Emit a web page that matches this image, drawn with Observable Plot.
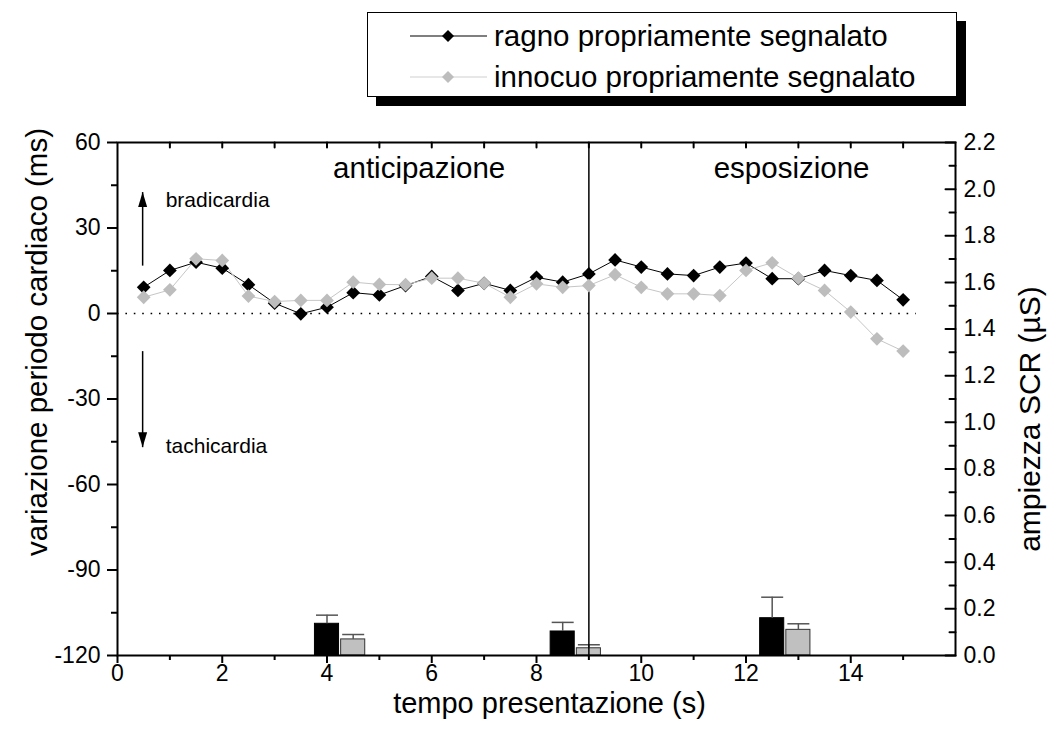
<!DOCTYPE html>
<html>
<head>
<meta charset="utf-8">
<script src="https://cdn.jsdelivr.net/npm/d3@7"></script>
<script src="https://cdn.jsdelivr.net/npm/@observablehq/plot@0.6"></script>
<style>
  body { margin: 0; background: #fff; font-family: "Liberation Sans", Arial, Helvetica, sans-serif; }
  #wrap { position: relative; width: 1057px; height: 740px; background: #fff; }
  #top { height: 120px; }
  #legend { position: absolute; left: 367px; top: 12px; width: 590px; height: 85px; box-sizing: border-box;
            border: 1px solid #000; box-shadow: 9px 9px 0 #000; background: #fff; }
  .row { position: absolute; left: 0; height: 30px; display: flex; align-items: center; }
  .row svg { margin-left: 42px; }
  .row span { margin-left: 6px; font-size: 29.5px; color: #000; white-space: nowrap; line-height: 30px; }
  #chart svg { display: block; }
</style>
</head>
<body>
<div id="wrap">
  <div id="top"></div>
  <div id="legend"></div>
  <div id="chart"></div>
</div>
<script>
// ---- data ----
const times = [0.5, 1, 1.5, 2, 2.5, 3, 3.5, 4, 4.5, 5, 5.5, 6, 6.5, 7, 7.5,
               8, 8.5, 9, 9.5, 10, 10.5, 11, 11.5, 12, 12.5, 13, 13.5, 14, 14.5, 15];
const ragno = [9.2, 15.1, 18.0, 15.9, 10.1, 3.6, -0.1, 2.2, 7.3, 6.5, 9.8, 13.0, 8.1, 10.6, 8.1,
               12.7, 11.0, 13.9, 18.8, 16.3, 13.9, 13.3, 16.3, 17.7, 12.2, 12.2, 15.1, 13.3, 11.6, 4.8];
const innocuo = [5.7, 8.3, 19.2, 18.6, 6.1, 4.2, 4.6, 4.6, 11.0, 10.2, 10.1, 12.4, 12.4, 10.6, 5.7,
                 10.4, 9.2, 9.8, 13.6, 9.2, 6.9, 6.9, 6.3, 15.1, 17.8, 12.4, 8.1, 0.5, -8.9, -13.2];

// SCR amplitude bars (right axis, µS)
const scrRagnoX = [4, 8.5, 12.5];
const scrRagno = [0.136, 0.103, 0.160];
const scrRagnoErr = [0.037, 0.039, 0.090];
const scrInnocuoX = [4.5, 9, 13];
const scrInnocuo = [0.069, 0.031, 0.110];
const scrInnocuoErr = [0.021, 0.015, 0.026];

const seriesNames = ["ragno propriamente segnalato", "innocuo propriamente segnalato"];

// axes
const xMajor = [0, 2, 4, 6, 8, 10, 12, 14];
const xMinor = [1, 3, 5, 7, 9, 11, 13, 15];
const xTop = [1, 2, 3, 4, 5, 6, 7, 8, 9, 10, 11, 12, 13, 14, 15];
const yMajor = [-120, -90, -60, -30, 0, 30, 60];
const yMinor = [-105, -75, -45, -15, 15, 45];
const scrMajor = [0, 0.2, 0.4, 0.6, 0.8, 1.0, 1.2, 1.4, 1.6, 1.8, 2.0, 2.2];
const scrMinor = [0.1, 0.3, 0.5, 0.7, 0.9, 1.1, 1.3, 1.5, 1.7, 1.9, 2.1];
const yDomain = [-120, 60];
const xDomain = [0, 16];
const scrMax = 2.2;

// annotations
const phaseSplit = [9];
const zeroLine = [{x1: 0, x2: 15.25, y: 0}];
const phaseLabels = [{x: 5.76, y: 50.9, text: "anticipazione"}, {x: 12.87, y: 50.9, text: "esposizione"}];
const dirLabels = [{x: 0.92, y: 39.6, text: "bradicardia"}, {x: 0.92, y: -46.7, text: "tachicardia"}];
const arrows = [{x: 0.48, y1: 16.8, y2: 42.6, rot: 0}, {x: 0.48, y1: -13.2, y2: -46.9, rot: 180}];
const titles = {x: "tempo presentazione (s)", yLeft: "variazione periodo cardiaco (ms)", yRight: "ampiezza SCR (µS)"};

// ---- build tables ----
const toLeft = v => yDomain[0] + v * (yDomain[1] - yDomain[0]) / scrMax;
const ragnoData = times.map((t, i) => ({t, v: ragno[i]}));
const innocuoData = times.map((t, i) => ({t, v: innocuo[i]}));
const bars = [
  ...scrRagnoX.map((x, i) => ({x, v: scrRagno[i], e: scrRagnoErr[i], fill: "#000", stroke: "#000"})),
  ...scrInnocuoX.map((x, i) => ({x, v: scrInnocuo[i], e: scrInnocuoErr[i], fill: "#c0c0c0", stroke: "#333"}))
];
const barHalf = 0.23, capHalf = 0.21;

const lineShape = {draw(context, l) { context.moveTo(0, 0); context.lineTo(0, -l); }};
const headSymbol = {draw(context) { context.moveTo(0, 0); context.lineTo(4.5, 15); context.lineTo(-4.5, 15); context.closePath(); }};

const font = "'Liberation Sans', Arial, Helvetica, sans-serif";

const chart = Plot.plot({
  width: 1057, height: 620,
  marginTop: 22, marginBottom: 85, marginLeft: 117, marginRight: 102,
  x: {domain: xDomain, label: null},
  y: {domain: yDomain, label: null},
  style: {fontFamily: font, color: "#000", background: "#fff", overflow: "visible"},
  marks: [
    Plot.ruleY(zeroLine, {x1: "x1", x2: "x2", y: "y", stroke: "#000", strokeWidth: 1.4, strokeDasharray: "1.6,6.8"}),
    // SCR bars
    Plot.rectY(bars, {x1: d => d.x - barHalf, x2: d => d.x + barHalf, y1: yDomain[0], y2: d => toLeft(d.v),
                      fill: d => d.fill, stroke: d => d.stroke, strokeWidth: 1}),
    Plot.ruleX(bars, {x: "x", y1: d => toLeft(d.v), y2: d => toLeft(d.v + d.e), stroke: "#555", strokeWidth: 1.5}),
    Plot.link(bars, {x1: d => d.x - capHalf, x2: d => d.x + capHalf, y1: d => toLeft(d.v + d.e), y2: d => toLeft(d.v + d.e),
                     stroke: "#555", strokeWidth: 1.5}),
    // phase split
    Plot.ruleX(phaseSplit, {stroke: "#000", strokeWidth: 1.5}),
    // series
    Plot.line(ragnoData, {x: "t", y: "v", stroke: "#000", strokeWidth: 1}),
    Plot.line(innocuoData, {x: "t", y: "v", stroke: "#c6c6c6", strokeWidth: 1}),
    Plot.dot(ragnoData, {x: "t", y: "v", symbol: "diamond2", r: 6.2, fill: "#000", stroke: "none"}),
    Plot.dot(innocuoData, {x: "t", y: "v", symbol: "diamond2", r: 6.2, fill: "#bdbdbd", stroke: "none"}),
    // annotations
    Plot.text(phaseLabels, {x: "x", y: "y", text: "text", fontSize: 29.5, fill: "#000"}),
    Plot.text(dirLabels, {x: "x", y: "y", text: "text", fontSize: 21, textAnchor: "start", fill: "#000"}),
    Plot.link(arrows, {x1: "x", x2: "x", y1: "y1", y2: "y2", stroke: "#000", strokeWidth: 1.5}),
    Plot.dot(arrows, {x: "x", y: "y2", symbol: headSymbol, rotate: "rot", fill: "#000", stroke: "none", r: 5}),
    // axes
    Plot.axisX({ticks: xMajor, tickSize: 8, tickPadding: 1, fontSize: 23, strokeWidth: 2, label: null, tickFormat: d => String(d)}),
    Plot.axisX({ticks: xMinor, tickSize: 5, strokeWidth: 2, fill: "none", label: null}),
    Plot.vector(xTop, {x: d => d, frameAnchor: "top", rotate: 180, length: 5, anchor: "start", shape: lineShape, stroke: "#000", strokeWidth: 2}),
    Plot.axisY({ticks: yMajor, anchor: "left", tickSize: 10, tickPadding: 7, fontSize: 23, strokeWidth: 2, label: null, tickFormat: d => String(d)}),
    Plot.axisY({ticks: yMinor, anchor: "left", tickSize: 6, strokeWidth: 2, fill: "none", label: null}),
    Plot.axisY({ticks: scrMajor.map(toLeft), anchor: "right", tickSize: 0, tickPadding: 8, fontSize: 23, label: null,
                tickFormat: d => ((d - yDomain[0]) * scrMax / (yDomain[1] - yDomain[0])).toFixed(1)}),
    Plot.vector(scrMajor.map(toLeft), {y: d => d, frameAnchor: "right", rotate: -90, length: 10, anchor: "start", shape: lineShape, stroke: "#000", strokeWidth: 2}),
    Plot.vector(scrMinor.map(toLeft), {y: d => d, frameAnchor: "right", rotate: -90, length: 6, anchor: "start", shape: lineShape, stroke: "#000", strokeWidth: 2}),
    Plot.frame({stroke: "#000", strokeWidth: 2}),
    // axis titles
    Plot.text([titles.x], {text: d => d, frameAnchor: "bottom", dx: 13, dy: 48, fontSize: 29, textAnchor: "middle", lineAnchor: "middle", fill: "#000"}),
    Plot.text([titles.yLeft], {text: d => d, frameAnchor: "left", dx: -80, dy: -57, rotate: -90, fontSize: 29.5, textAnchor: "middle", lineAnchor: "middle", fill: "#000"}),
    Plot.text([titles.yRight], {text: d => d, frameAnchor: "right", dx: 75, dy: 20, rotate: -90, fontSize: 30, textAnchor: "middle", lineAnchor: "middle", fill: "#000"})
  ]
});
document.getElementById("chart").appendChild(chart);

// ---- legend ----
const legendColors = [{line: "#000", marker: "#000"}, {line: "#d0d0d0", marker: "#bdbdbd"}];
const legendTops = [8, 49];
const legend = document.getElementById("legend");
seriesNames.forEach((name, i) => {
  const row = document.createElement("div");
  row.className = "row";
  row.style.top = legendTops[i] + "px";
  row.innerHTML = `<svg width="78" height="20" viewBox="0 0 78 20">
      <line x1="0" y1="10" x2="77" y2="10" stroke="${legendColors[i].line}" stroke-width="1.2"/>
      <path d="M38,4 L44,10 L38,16 L32,10 Z" fill="${legendColors[i].marker}"/>
    </svg><span></span>`;
  row.querySelector("span").textContent = name;
  legend.appendChild(row);
});
</script>
</body>
</html>
